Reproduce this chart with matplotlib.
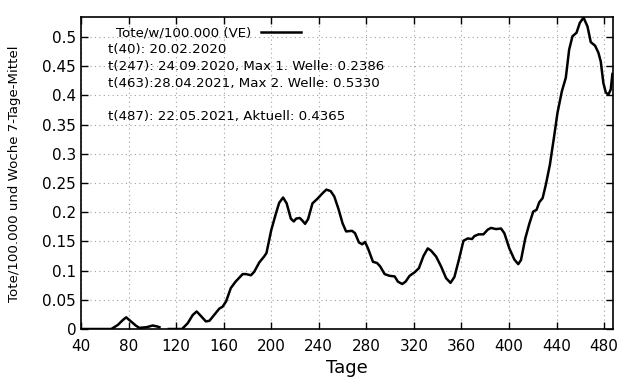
import numpy as np
import matplotlib
matplotlib.use("Agg")
import matplotlib.pyplot as plt

# Day index and 7-day mean deaths per 100,000; NaN = gap
days = [40, 50, 60, 65.5, 71, 75, 78, 82, 86, 89, 95, 100.4, 104.6, 106,
        109,
        113.8, 120, 125, 129.8, 134, 137.3, 141, 145, 148, 152, 156.4, 159, 162, 166, 170,
        176, 178.7, 183, 185.7, 190, 194, 196, 200, 204, 206.7, 210, 213, 216.5,
        219, 221, 224, 226, 228.5, 231, 234.7, 238.9, 243, 246.4, 250, 253,
        256.5, 260, 263, 268, 270.5, 273.8, 276.6, 278.9, 281.4, 285.6, 289,
        291.7, 295.4, 299.6, 303.8, 306.6, 310.2, 313, 316.4, 320.6, 324.2,
        328.1, 331.7, 334.5, 338.7, 342.9, 347.1, 350.8, 354.1, 357.8, 361.7,
        365.3, 368.9, 370.9, 374.5, 378.5, 382.1, 384.9, 389.1, 393.3, 396.1,
        400.3, 404.5, 407.8, 410.1, 413.7, 417.1, 420.4, 423.2, 425.5, 428.3,
        431, 434.4, 438, 440.8, 444.5, 447.8, 450.6, 453.4, 456.8, 459.6,
        462.7, 466, 468.8, 472.4, 475.2, 477.2, 479.4, 481.4, 483.6, 485.6, 487]
values = [0, 0, 0, 0, 0.007, 0.015, 0.020, 0.013, 0.006, 0.002, 0.003, 0.006, 0.004, 0.003,
          np.nan,
          0, 0, 0, 0.010, 0.024, 0.030, 0.022, 0.013, 0.014, 0.024, 0.035, 0.038, 0.047, 0.070, 0.081,
          0.094, 0.094, 0.092, 0.098, 0.114, 0.124, 0.130, 0.169, 0.198, 0.216, 0.225, 0.215, 0.189,
          0.184, 0.189, 0.190, 0.186, 0.180, 0.188, 0.215, 0.223, 0.232, 0.2386, 0.236, 0.227,
          0.206, 0.181, 0.167, 0.168, 0.164, 0.148, 0.145, 0.149, 0.138, 0.115, 0.113,
          0.107, 0.094, 0.091, 0.090, 0.081, 0.077, 0.081, 0.091, 0.097, 0.104,
          0.125, 0.138, 0.134, 0.124, 0.107, 0.087, 0.079, 0.089, 0.118, 0.151,
          0.155, 0.154, 0.159, 0.162, 0.162, 0.170, 0.173, 0.171, 0.172, 0.164,
          0.138, 0.119, 0.111, 0.118, 0.155, 0.180, 0.201, 0.204, 0.217, 0.224,
          0.247, 0.281, 0.330, 0.370, 0.407, 0.430, 0.478, 0.501, 0.507, 0.524,
          0.533, 0.518, 0.491, 0.485, 0.473, 0.458, 0.421, 0.405, 0.401, 0.410, 0.4365]

xticks = list(range(40, 481, 40))
yticks = [0, 0.05, 0.1, 0.15, 0.2, 0.25, 0.3, 0.35, 0.4, 0.45, 0.5]
ytick_labels = ["0", "0.05", "0.1", "0.15", "0.2", "0.25", "0.3", "0.35", "0.4", "0.45", "0.5"]
series_label = "Tote/w/100.000 (VE)"
notes = ["t(40): 20.02.2020",
         "t(247): 24.09.2020, Max 1. Welle: 0.2386",
         "t(463):28.04.2021, Max 2. Welle: 0.5330",
         "",
         "t(487): 22.05.2021, Aktuell: 0.4365"]

fig = plt.figure(figsize=(6.4, 3.84), dpi=100)
ax = fig.add_axes([81/640, 1-329/384, (613-81)/640, (329-17)/384])
ax.plot(days, values, color="black", lw=1.8, label=series_label)
ax.set_xlim(40, 487.5)
ax.set_ylim(0, 0.534)
ax.set_xticks(xticks)
ax.set_yticks(yticks)
ax.set_yticklabels(ytick_labels)
ax.tick_params(direction="in", top=True, right=True, labelsize=11, length=5, width=1)
ax.tick_params(axis="x", pad=7)
ax.grid(True, color="#a0a0a0", linestyle=(0, (1, 3)), lw=0.8)
for s in ax.spines.values():
    s.set_linewidth(1.2)
ax.set_xlabel("Tage", fontsize=13)
ax.set_ylabel("Tote/100.000 und Woche 7-Tage-Mittel", fontsize=9.6, va="center")
ax.yaxis.set_label_coords((15-81)/532, 0.497)
leg = ax.legend(loc="center left", frameon=False, markerfirst=False, fontsize=9.6,
                handlelength=3.0, handletextpad=0.7, borderaxespad=0.0, borderpad=0.0,
                bbox_to_anchor=((116-81)/532, (329-33)/312))
y0 = (329-50)/312
dy = 16.6/312
for i, t in enumerate(notes):
    ax.text((108-81)/532, y0 - i*dy, t, transform=ax.transAxes, fontsize=9.6,
            va="center", ha="left")
fig.savefig("out.png", dpi=100)
